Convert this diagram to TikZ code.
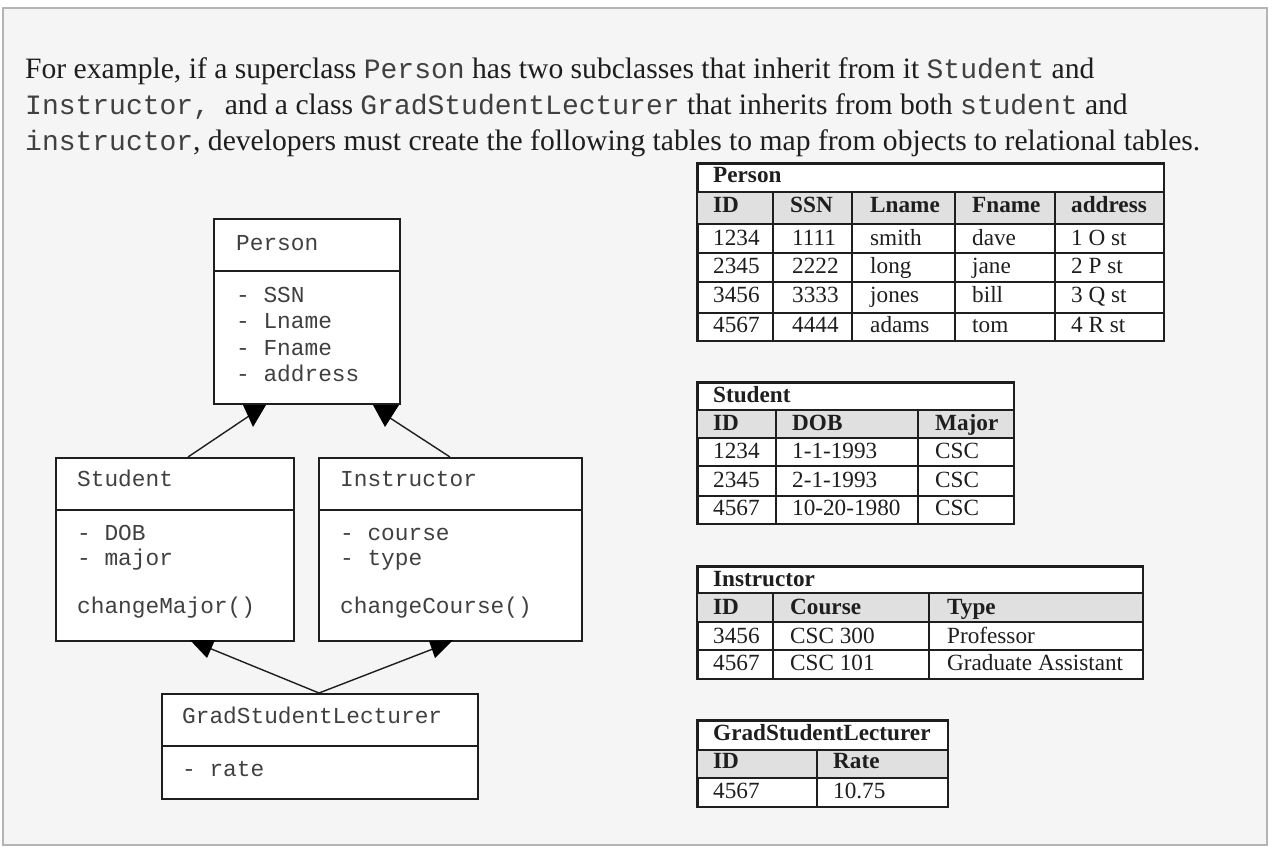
\documentclass[tikz,border=0pt]{standalone}
\usepackage{fontspec}
\setmainfont{Liberation Serif}
\setmonofont{Liberation Mono}
\definecolor{bgpage}{HTML}{F5F5F5}
\definecolor{framegray}{HTML}{B4B4B4}
\definecolor{hdrfill}{HTML}{E0E0E0}
\definecolor{inkdark}{HTML}{1E1E1E}
\definecolor{codegray}{HTML}{404040}
\newcommand\mcode[1]{{\fontsize{28}{30}\selectfont\ttfamily\color{codegray}#1}}
\newcommand\hdrsize{\fontsize{29.6}{32}\selectfont}
\newcommand\umlsize{\fontsize{22.8}{26}\selectfont\ttfamily}
\newcommand\tblsize{\fontsize{23.2}{26}\selectfont}
\begin{document}
\begin{tikzpicture}[x=1pt,y=-1pt,
  hdr/.style={anchor=base west,inner sep=0pt,font=\hdrsize,text=inkdark},
  umlbox/.style={draw=inkdark,fill=white,line width=1.6pt,anchor=north west,inner sep=0pt},
  umlline/.style={draw=inkdark,line width=1.6pt},
  umltxt/.style={anchor=base west,inner sep=0pt,font=\umlsize,text=codegray},
  conn/.style={draw=inkdark,line width=1.4pt},
  tiphead/.style={fill=black},
  tblbox/.style={draw=inkdark,fill=white,line width=1.6pt,anchor=north west,inner sep=0pt},
  tblline/.style={draw=inkdark,line width=1.6pt},
  tbltxt/.style={anchor=base west,inner sep=0pt,font=\tblsize,text=inkdark},
  tblbold/.style={anchor=base west,inner sep=0pt,font=\tblsize\bfseries,text=inkdark}
]
\useasboundingbox (0,0) rectangle (1274,846);
\fill[white] (0,0) rectangle (1274,846);
\draw[fill=bgpage,draw=framegray,line width=1.5pt] (3,8) rectangle (1267,845);

% header text
\node[hdr] (line1) at (25,78) {For example, if a superclass \mcode{Person} has two subclasses that inherit from it \mcode{Student} and};
\node[hdr] (line2) at (25,114.5) {\mcode{Instructor,}\ \ and a class \mcode{GradStudentLecturer} that inherits from both \mcode{student} and};
\node[hdr] (line3) at (25,150) {\mcode{instructor}, developers must create the following tables to map from objects to relational tables.};

% UML: Person
\node[umlbox,minimum width=186pt,minimum height=185pt] (person) at (213,218) {};
\draw[umlline] (person.west |- 0,271) -- (person.east |- 0,271);
\node[umltxt] (personname) at (236,250) {Person};
\node[umltxt] (pa1) at (236,302) {- SSN};
\node[umltxt] (pa2) at (236,328.5) {- Lname};
\node[umltxt] (pa3) at (236,355) {- Fname};
\node[umltxt] (pa4) at (236,381.5) {- address};

% UML: Student
\node[umlbox,minimum width=238pt,minimum height=183pt] (student) at (55,457) {};
\draw[umlline] (student.west |- 0,510) -- (student.east |- 0,510);
\node[umltxt] (studentname) at (77,486) {Student};
\node[umltxt] (sa1) at (77,540) {- DOB};
\node[umltxt] (sa2) at (77,565) {- major};
\node[umltxt] (sm1) at (77,613) {changeMajor()};

% UML: Instructor
\node[umlbox,minimum width=263pt,minimum height=183pt] (instructor) at (318,457) {};
\draw[umlline] (instructor.west |- 0,510) -- (instructor.east |- 0,510);
\node[umltxt] (instrname) at (340,486) {Instructor};
\node[umltxt] (ia1) at (340,540) {- course};
\node[umltxt] (ia2) at (340,565) {- type};
\node[umltxt] (im1) at (340,613) {changeCourse()};

% UML: GradStudentLecturer
\node[umlbox,minimum width=316pt,minimum height=105pt] (gsl) at (161,693) {};
\draw[umlline] (gsl.west |- 0,746) -- (gsl.east |- 0,746);
\node[umltxt] (gslname) at (182,723) {GradStudentLecturer};
\node[umltxt] (ga1) at (182,776) {- rate};

% connectors
\coordinate (sTop) at (188,457);
\coordinate (iTop) at (450,457);
\coordinate (gTop) at (319,693);
\coordinate (tipSP) at (249,416);
\coordinate (tipIP) at (387,416);
\coordinate (tipGS) at (209,648);
\coordinate (tipGI) at (438,647);
\draw[conn] (sTop) -- (tipSP);
\draw[conn] (iTop) -- (tipIP);
\draw[conn] (gTop) -- (tipGS);
\draw[conn] (gTop) -- (tipGI);
\fill[tiphead] (243,405) -- (266,405) -- (253,427) -- cycle;
\fill[tiphead] (373,405) -- (399,405) -- (385,427) -- cycle;
\fill[tiphead] (190,640) -- (215,640) -- (207,658) -- cycle;
\fill[tiphead] (429,641) -- (453,640) -- (435,658) -- cycle;

% Table: Person
\node[tblbox,minimum width=466pt,minimum height=177pt] (tperson) at (697,163) {};
\fill[hdrfill] (697,192) rectangle (1163,224);
\draw[tblline] (697,192) -- (1163,192);
\foreach \yy in {224,253,282,313} \draw[tblline] (697,\yy) -- (1163,\yy);
\foreach \xx in {773,852,955,1055} \draw[tblline] (\xx,192) -- (\xx,340);
\draw[tblline] (tperson.north west) rectangle (tperson.south east);
\node[tblbold] (tpt) at (713,182) {Person};
\node[tblbold] (tph1) at (713,212) {ID};
\node[tblbold] (tph2) at (790,212) {SSN};
\node[tblbold] (tph3) at (870,212) {Lname};
\node[tblbold] (tph4) at (972,212) {Fname};
\node[tblbold] (tph5) at (1071,212) {address};
\node[tbltxt] (tp11) at (713,245) {1234};
\node[tbltxt] (tp12) at (792,245) {1111};
\node[tbltxt] (tp13) at (870,245) {smith};
\node[tbltxt] (tp14) at (972,245) {dave};
\node[tbltxt] (tp15) at (1071,245) {1 O st};
\node[tbltxt] (tp21) at (713,273) {2345};
\node[tbltxt] (tp22) at (792,273) {2222};
\node[tbltxt] (tp23) at (870,273) {long};
\node[tbltxt] (tp24) at (972,273) {jane};
\node[tbltxt] (tp25) at (1071,273) {2 P st};
\node[tbltxt] (tp31) at (713,302) {3456};
\node[tbltxt] (tp32) at (792,302) {3333};
\node[tbltxt] (tp33) at (870,302) {jones};
\node[tbltxt] (tp34) at (972,302) {bill};
\node[tbltxt] (tp35) at (1071,302) {3 Q st};
\node[tbltxt] (tp41) at (713,332) {4567};
\node[tbltxt] (tp42) at (792,332) {4444};
\node[tbltxt] (tp43) at (870,332) {adams};
\node[tbltxt] (tp44) at (972,332) {tom};
\node[tbltxt] (tp45) at (1071,332) {4 R st};

% Table: Student
\node[tblbox,minimum width=316pt,minimum height=141pt] (tstudent) at (697,382) {};
\fill[hdrfill] (697,410) rectangle (1013,438);
\draw[tblline] (697,410) -- (1013,410);
\foreach \yy in {438,466,496} \draw[tblline] (697,\yy) -- (1013,\yy);
\foreach \xx in {776,918} \draw[tblline] (\xx,410) -- (\xx,523);
\draw[tblline] (tstudent.north west) rectangle (tstudent.south east);
\node[tblbold] (tst) at (713,402) {Student};
\node[tblbold] (tsh1) at (713,430) {ID};
\node[tblbold] (tsh2) at (792,430) {DOB};
\node[tblbold] (tsh3) at (935,430) {Major};
\node[tbltxt] (ts11) at (713,458) {1234};
\node[tbltxt] (ts12) at (792,458) {1-1-1993};
\node[tbltxt] (ts13) at (935,458) {CSC};
\node[tbltxt] (ts21) at (713,487) {2345};
\node[tbltxt] (ts22) at (792,487) {2-1-1993};
\node[tbltxt] (ts23) at (935,487) {CSC};
\node[tbltxt] (ts31) at (713,515) {4567};
\node[tbltxt] (ts32) at (792,515) {10-20-1980};
\node[tbltxt] (ts33) at (935,515) {CSC};

% Table: Instructor
\node[tblbox,minimum width=445pt,minimum height=112pt] (tinstr) at (697,566) {};
\fill[hdrfill] (697,593) rectangle (1142,622);
\draw[tblline] (697,593) -- (1142,593);
\foreach \yy in {622,650} \draw[tblline] (697,\yy) -- (1142,\yy);
\foreach \xx in {773,929} \draw[tblline] (\xx,593) -- (\xx,678);
\draw[tblline] (tinstr.north west) rectangle (tinstr.south east);
\node[tblbold] (tit) at (713,586) {Instructor};
\node[tblbold] (tih1) at (713,614) {ID};
\node[tblbold] (tih2) at (790,614) {Course};
\node[tblbold] (tih3) at (947,614) {Type};
\node[tbltxt] (ti11) at (713,643) {3456};
\node[tbltxt] (ti12) at (790,643) {CSC 300};
\node[tbltxt] (ti13) at (947,643) {Professor};
\node[tbltxt] (ti21) at (713,670) {4567};
\node[tbltxt] (ti22) at (790,670) {CSC 101};
\node[tbltxt] (ti23) at (947,670) {Graduate Assistant};

% Table: GradStudentLecturer
\node[tblbox,minimum width=250pt,minimum height=86pt] (tgsl) at (697,720) {};
\fill[hdrfill] (697,750) rectangle (947,778);
\draw[tblline] (697,750) -- (947,750);
\draw[tblline] (697,778) -- (947,778);
\draw[tblline] (817,750) -- (817,806);
\draw[tblline] (tgsl.north west) rectangle (tgsl.south east);
\node[tblbold] (tgt) at (713,740) {GradStudentLecturer};
\node[tblbold] (tgh1) at (713,768) {ID};
\node[tblbold] (tgh2) at (833,768) {Rate};
\node[tbltxt] (tg11) at (713,798) {4567};
\node[tbltxt] (tg12) at (833,798) {10.75};
\end{tikzpicture}
\end{document}
